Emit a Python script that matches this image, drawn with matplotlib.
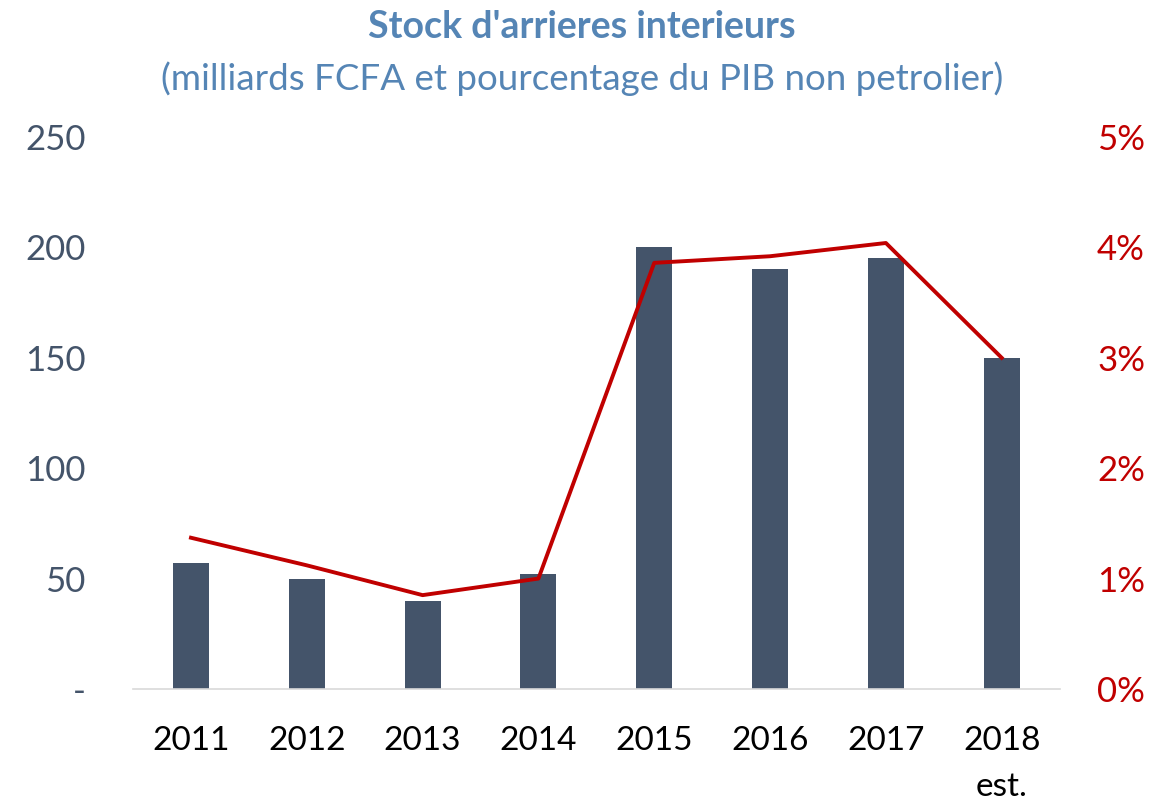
import matplotlib.pyplot as plt

plt.rcParams['font.family'] = ['Lato', 'DejaVu Sans']

# data
years = ['2011', '2012', '2013', '2014', '2015', '2016', '2017', '2018\nest.']
stock = [57, 50, 40, 52, 200, 190, 195, 150]          # milliards FCFA
pct_pib = [1.37, 1.12, 0.85, 1.00, 3.86, 3.92, 4.04, 3.00]  # % du PIB non petrolier

left_ticks = [0, 50, 100, 150, 200, 250]
left_labels = ['-', '50', '100', '150', '200', '250']
right_ticks = [0, 1, 2, 3, 4, 5]

bar_col = '#44546a'
line_col = '#c00000'
title_col = '#5585b5'

fig = plt.figure(figsize=(11.53, 8.06), dpi=100)
ax = fig.add_axes([0.1154, 0.1452, 0.8036, 0.6848])

x = range(len(years))
ax.bar(x, stock, width=0.31, color=bar_col, zorder=2)
ax.set_xlim(-0.5, len(years) - 0.5)
ax.set_ylim(0, 250)
ax.set_yticks(left_ticks)
ax.set_yticklabels(left_labels)
ax.tick_params(axis='y', length=0, pad=34, labelsize=25, labelcolor=bar_col)
ax.set_xticks(list(x))
ax.set_xticklabels(years, linespacing=1.65, va='top')
ax.tick_params(axis='x', length=0, pad=27, labelsize=24, labelcolor='black')
for s in ['top', 'right', 'left']:
    ax.spines[s].set_visible(False)
ax.spines['bottom'].set_color('#d9d9d9')
ax.spines['bottom'].set_linewidth(1.2)

ax2 = ax.twinx()
ax2.plot(x, pct_pib, color=line_col, linewidth=2.8, zorder=3)
ax2.set_ylim(0, 5)
ax2.set_yticks(right_ticks)
ax2.set_yticklabels([f'{t}%' for t in right_ticks])
ax2.tick_params(axis='y', length=0, pad=27, labelsize=25, labelcolor=line_col)
for s in ['top', 'right', 'left', 'bottom']:
    ax2.spines[s].set_visible(False)

fig.text(0.505, 0.966, "Stock d'arrieres interieurs", ha='center', va='center',
         fontsize=27, fontweight='bold', color=title_col)
fig.text(0.505, 0.903, "(milliards FCFA et pourcentage du PIB non petrolier)",
         ha='center', va='center', fontsize=26.5, color=title_col)

fig.savefig('out.png', dpi=100)
